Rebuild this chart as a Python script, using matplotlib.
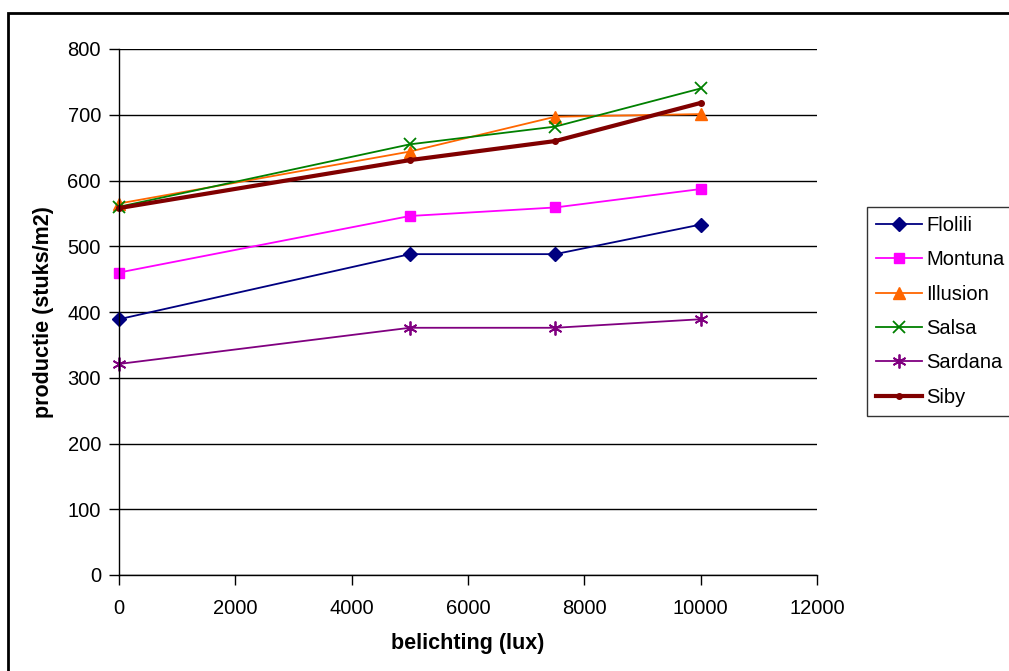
import matplotlib
matplotlib.use("Agg")
import matplotlib.pyplot as plt
from matplotlib.patches import Rectangle

plt.rcParams['font.family'] = ['Liberation Sans', 'DejaVu Sans']

x_lux = [0, 5000, 7500, 10000]
flolili = [389, 488, 488, 533]
montuna = [460, 546, 559, 587]
illusion = [565, 644, 697, 701]
salsa = [560, 655, 682, 740]
sardana = [321, 376, 376, 389]
siby = [558, 631, 660, 718]

series = [
    ("Flolili", flolili, "#000080", "D", 1.3, 7),
    ("Montuna", montuna, "#FF00FF", "s", 1.3, 7),
    ("Illusion", illusion, "#FF6600", "^", 1.3, 8),
    ("Salsa", salsa, "#008000", "x", 1.3, 9),
    ("Sardana", sardana, "#800080", (6, 2, 0), 1.3, 10),
    ("Siby", siby, "#800000", "o", 3.0, 4),
]

W, H = 1009, 671
fig = plt.figure(figsize=(W / 100, H / 100), dpi=100)

# outer frame
fig.patches.append(Rectangle((8 / W, -0.1), 1.2, (H - 13) / H + 0.1,
                             transform=fig.transFigure, fill=False,
                             edgecolor='black', linewidth=2, zorder=0))

ax = fig.add_axes([119 / W, 1 - 575 / H, (817 - 119) / W, (575 - 49) / H])

for name, vals, col, mk, lw, ms in series:
    kw = dict(color=col, linewidth=lw, marker=mk, markersize=ms, label=name,
              markerfacecolor=col, markeredgecolor=col, clip_on=False)
    if mk == "x" or isinstance(mk, tuple):
        kw["markeredgewidth"] = 1.3
    ax.plot(x_lux, vals, **kw)

ax.set_xlim(0, 12000)
ax.set_ylim(0, 800)
ax.set_xticks(range(0, 12001, 2000))
ax.set_yticks(range(0, 801, 100))
ax.tick_params(axis='both', direction='out', length=7, width=1, labelsize=14.5,
               color='black')
ax.tick_params(axis='x', pad=10)
ax.tick_params(axis='y', pad=6)
ax.yaxis.grid(True, color='black', linewidth=1)
ax.set_axisbelow(True)
for s in ('top', 'right'):
    ax.spines[s].set_visible(False)
for s in ('left', 'bottom'):
    ax.spines[s].set_color('black')
    ax.spines[s].set_linewidth(1)

ax.set_xlabel('belichting (lux)', fontsize=15.5, fontweight='bold', labelpad=11)
ax.set_ylabel('productie (stuks/m2)', fontsize=15.5, fontweight='bold', labelpad=10)

leg = fig.legend(loc='upper left', bbox_to_anchor=(867 / W, 1 - 207 / H),
                 frameon=True, fancybox=False, edgecolor='black',
                 fontsize=14.5, borderpad=0.45, labelspacing=0.76,
                 handlelength=2.3, handletextpad=0.2, borderaxespad=0)
leg.get_frame().set_linewidth(1)

fig.savefig('out.png', dpi=100)
